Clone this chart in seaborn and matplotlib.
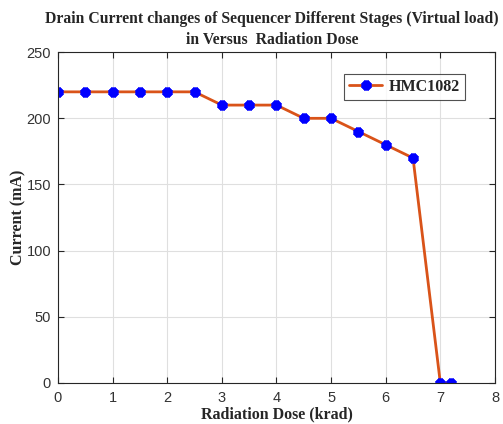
import matplotlib
matplotlib.use("Agg")
import matplotlib.pyplot as plt
import seaborn as sns
import pandas as pd

dose = [0, 0.5, 1, 1.5, 2, 2.5, 3, 3.5, 4, 4.5, 5, 5.5, 6, 6.5, 7, 7.2]
current = [220, 220, 220, 220, 220, 220, 210, 210, 210, 200, 200, 190, 180, 170, 0, 0]
series_name = "HMC1082"
x_ticks = [0, 1, 2, 3, 4, 5, 6, 7, 8]
y_ticks = [0, 50, 100, 150, 200, 250]

df = pd.DataFrame({"dose": dose, "current": current, "series": series_name})

sns.set_theme(style="white")
plt.rcParams['font.family'] = ['Liberation Sans', 'DejaVu Sans']

fig = plt.figure(figsize=(5.03, 4.24), dpi=100)
ax = fig.add_axes([0.1153, 0.0967, 0.8687, 0.7803])

ast = (8, 2, 0)
sns.lineplot(data=df, x="dose", y="current", hue="series", palette=["#D95319"],
             ax=ax, linewidth=2, estimator=None, sort=False)
for ln in ax.lines:
    ln.set_marker(ast)
    ln.set_markersize(7)
    ln.set_markeredgecolor("blue")
    ln.set_markerfacecolor("blue")
    ln.set_markeredgewidth(3)

ax.set_xlim(0, 8)
ax.set_ylim(0, 250)
ax.set_xticks(x_ticks)
ax.set_yticks(y_ticks)
ax.grid(True, color="#DFDFDF", linewidth=0.8)
ax.tick_params(direction="in", length=4, width=0.8, colors="#262626", labelsize=10.5,
               top=True, right=True, bottom=True, left=True)
ax.tick_params(axis="x", pad=6)
ax.tick_params(axis="y", pad=5)
for t in ax.get_xticklabels() + ax.get_yticklabels():
    t.set_color("#333333")
for s in ax.spines.values():
    s.set_color("#262626")
    s.set_linewidth(0.8)

serif = ['Liberation Serif', 'DejaVu Serif']
ax.set_xlabel("Radiation Dose (krad)", fontsize=11.5, fontweight="bold", family=serif, labelpad=1)
ax.set_ylabel("Current (mA)", fontsize=11.5, fontweight="bold", family=serif, labelpad=0)
ax.set_title("Drain Current changes of Sequencer Different Stages (Virtual load)\nin Versus  Radiation Dose",
             fontsize=11.3, fontweight="bold", family=serif, pad=6, linespacing=1.4,
             x=0.49)

leg = ax.legend(loc="upper right", bbox_to_anchor=(0.931, 0.934), borderaxespad=0,
                frameon=True, fancybox=False, edgecolor="#262626",
                prop={'family': serif, 'weight': 'bold', 'size': 11.5},
                handlelength=2.1, borderpad=0.3, handletextpad=0.4)
leg.get_frame().set_linewidth(0.8)
for h in leg.get_lines():
    h.set_marker(ast)
    h.set_markersize(7)
    h.set_markeredgecolor("blue")
    h.set_markerfacecolor("blue")
    h.set_markeredgewidth(3)

fig.savefig("out.png", dpi=100)
